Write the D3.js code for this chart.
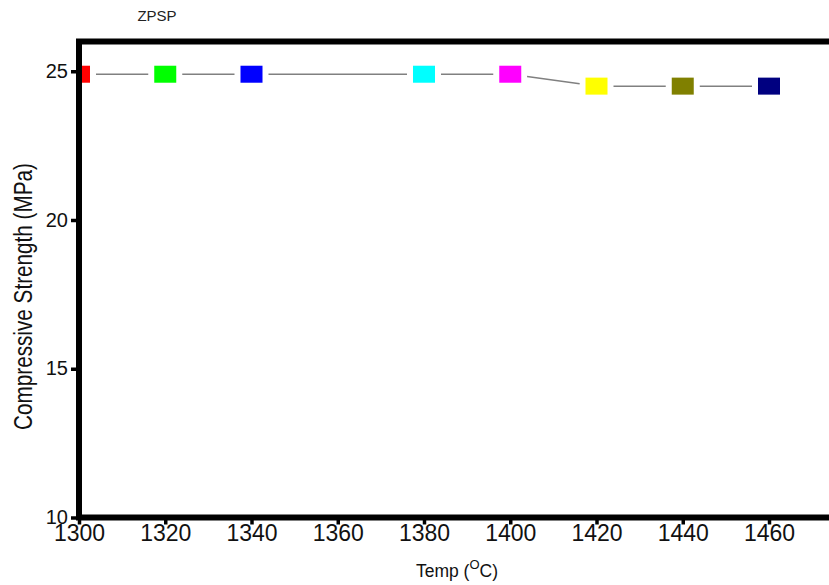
<!DOCTYPE html>
<html>
<head>
<meta charset="utf-8">
<script src="https://cdn.jsdelivr.net/npm/d3@7"></script>
<style>
    body { margin: 0; background: #fff; }
    text { font-family: "Liberation Sans", Arial, sans-serif; fill: #111; }
</style>
</head>
<body>
<svg id="chart_svg"></svg>
<script>
// data
var temps = [1300, 1320, 1340, 1380, 1400, 1420, 1440, 1460];
var strength = [24.9, 24.9, 24.9, 24.9, 24.9, 24.5, 24.5, 24.5];
var markerColors = ['#ff0000', '#00ff00', '#0000ff', '#00ffff', '#ff00ff', '#ffff00', '#808000', '#000080'];
var xTicks = [1300, 1320, 1340, 1360, 1380, 1400, 1420, 1440, 1460];
var yTicks = [10, 15, 20, 25];

var frameW = 829,
    frameH = 585,
    plotLeft = 79,
    plotTop = 41.5,
    plotBottom = 517.5,
    markW = 22,
    markH = 17,
    gap = 17;

var svg = d3.select('svg#chart_svg')
    .attr('width', frameW)
    .attr('height', frameH);

// plot keeps going past the right edge of the window
var x = d3.scaleLinear().domain([1300, 1480]).range([plotLeft, plotLeft + 180 * 4.3125]);
var y = d3.scaleLinear().domain([10, 26]).range([plotBottom, plotTop]);

svg.append('defs').append('clipPath').attr('id', 'plotclip')
    .append('rect')
    .attr('x', plotLeft).attr('y', plotTop)
    .attr('width', x.range()[1] - plotLeft).attr('height', plotBottom - plotTop);

var points = temps.map(function (t, i) {
    return { t: t, v: strength[i], c: markerColors[i] };
});

var plot = svg.append('g').attr('clip-path', 'url(#plotclip)');

// connecting line, broken a little before each marker
var segs = d3.pairs(points);
plot.selectAll('line.seg')
    .data(segs)
    .enter()
    .append('line')
    .attr('class', 'seg')
    .each(function (d) {
        var x1 = x(d[0].t), y1 = y(d[0].v), x2 = x(d[1].t), y2 = y(d[1].v);
        var len = Math.sqrt((x2 - x1) * (x2 - x1) + (y2 - y1) * (y2 - y1));
        var ux = (x2 - x1) / len, uy = (y2 - y1) / len;
        d3.select(this)
            .attr('x1', x1 + ux * gap).attr('y1', y1 + uy * gap)
            .attr('x2', x2 - ux * gap).attr('y2', y2 - uy * gap);
    })
    .attr('stroke', '#808080')
    .attr('stroke-width', 1.5);

plot.selectAll('rect.mark')
    .data(points)
    .enter()
    .append('rect')
    .attr('class', 'mark')
    .attr('x', function (d) { return x(d.t) - markW / 2; })
    .attr('y', function (d) { return y(d.v) - markH / 2; })
    .attr('width', markW)
    .attr('height', markH)
    .attr('fill', function (d) { return d.c; });

// axes
var xAxis = svg.append('g')
    .attr('transform', 'translate(0,' + plotBottom + ')')
    .call(d3.axisBottom(x).tickValues(xTicks).tickSize(7).tickFormat(d3.format('d')));
xAxis.select('.domain').remove();
xAxis.selectAll('line').attr('stroke', '#000').attr('stroke-width', 3.5);
xAxis.selectAll('text')
    .attr('y', 23).attr('dy', null)
    .style('font-size', '23px');

var yAxis = svg.append('g')
    .attr('transform', 'translate(' + plotLeft + ',0)')
    .call(d3.axisLeft(y).tickValues(yTicks).tickSize(8));
yAxis.select('.domain').remove();
yAxis.selectAll('line').attr('stroke', '#000').attr('stroke-width', 3.5);
yAxis.selectAll('text')
    .attr('x', -11).attr('dy', '0.3em')
    .style('font-size', '20px');

// thick frame
svg.append('rect')
    .attr('x', plotLeft).attr('y', plotTop)
    .attr('width', x.range()[1] - plotLeft).attr('height', plotBottom - plotTop)
    .attr('fill', 'none')
    .attr('stroke', '#000')
    .attr('stroke-width', 6);

// titles
svg.append('text')
    .attr('x', 157).attr('y', 21)
    .attr('text-anchor', 'middle')
    .style('font-size', '15px')
    .style('fill', '#222')
    .text('ZPSP');

var xt = svg.append('text')
    .attr('x', 457).attr('y', 577)
    .attr('text-anchor', 'middle')
    .style('font-size', '17.5px');
xt.append('tspan').text('Temp (');
xt.append('tspan').attr('dy', -8).style('font-size', '13px').text('O');
xt.append('tspan').attr('dy', 8).text('C)');

svg.append('text')
    .attr('transform', 'translate(32,296.5) rotate(-90)')
    .attr('text-anchor', 'middle')
    .attr('textLength', 267)
    .attr('lengthAdjust', 'spacingAndGlyphs')
    .style('font-size', '26px')
    .text('Compressive Strength (MPa)');
</script>
</body>
</html>
